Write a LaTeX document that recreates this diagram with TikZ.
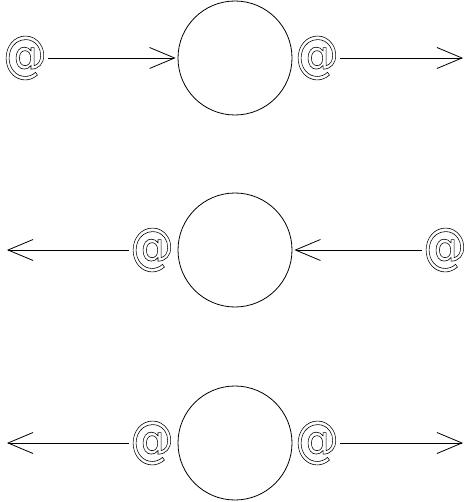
\documentclass[tikz,border=0pt]{standalone}
\usepackage{fontspec}
\setmainfont{DejaVu Sans}
\usetikzlibrary{arrows.meta}
\newcommand{\hollowat}{\scalebox{0.87}[1]{\special{pdf:literal direct 1 Tr 0.6 w}@\special{pdf:literal direct 0 Tr}}}
\tikzset{
  ring/.style={draw, circle, minimum size=114pt, inner sep=0pt, line width=0.8pt},
  atsign/.style={inner sep=0pt, minimum width=46pt, font=\fontsize{50}{50}\selectfont},
  conn/.style={line width=0.8pt, -{Straight Barb[length=25pt,width=21pt,line width=0.8pt]}},
}
\begin{document}
\begin{tikzpicture}[x=1pt,y=-1pt]
\useasboundingbox (0,0) rectangle (470,502);
% row 1
\node[ring] (c1) at (235,58) {};
\node[atsign] (a1l) at (25,58) {\hollowat};
\node[atsign] (a1r) at (317,58) {\hollowat};
\coordinate (e1r) at (463,58);
\draw[conn, shorten >=2pt] (a1l) -- (c1);
\draw[conn] (a1r) -- (e1r);
% row 2
\node[ring] (c2) at (235,250) {};
\node[atsign] (a2l) at (152,250) {\hollowat};
\node[atsign] (a2r) at (445,250) {\hollowat};
\coordinate (e2l) at (7,250);
\draw[conn] (a2l) -- (e2l);
\draw[conn, shorten >=2pt] (a2r) -- (c2);
% row 3
\node[ring] (c3) at (235,443) {};
\node[atsign] (a3l) at (152,443) {\hollowat};
\node[atsign] (a3r) at (317,443) {\hollowat};
\coordinate (e3l) at (7,443);
\coordinate (e3r) at (463,443);
\draw[conn] (a3l) -- (e3l);
\draw[conn] (a3r) -- (e3r);
\end{tikzpicture}
\end{document}
